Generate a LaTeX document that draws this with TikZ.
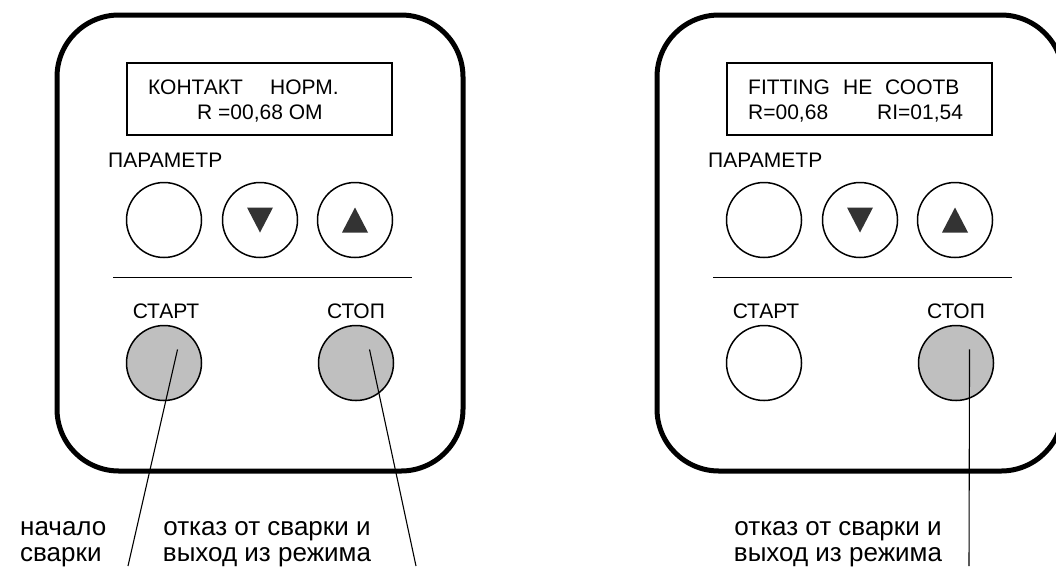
\documentclass[tikz,border=0pt]{standalone}
\usepackage{fontspec}
\setmainfont{Liberation Sans}
\usetikzlibrary{calc}

\begin{document}
\begin{tikzpicture}[x=1pt,y=-1pt,
    panel/.style={line width=5pt,rounded corners=62pt},
    screen/.style={line width=1.8pt},
    btn/.style={circle,draw,line width=1.5pt,minimum size=75pt,inner sep=0pt},
    pressed/.style={btn,fill=gray!50},
    tri/.style={fill=black!80},
    lead/.style={line width=1.1pt},
    lcd/.style={anchor=base west,inner sep=0pt,font=\fontsize{21}{24}\selectfont},
    btnlabel/.style={anchor=base,inner sep=0pt,font=\fontsize{21}{24}\selectfont},
    note/.style={anchor=base,inner sep=0pt,font=\fontsize{26}{26}\selectfont}]
    \useasboundingbox (0,0) rectangle (1056,566);
    \clip (0,0) rectangle (1056,566);
    % both panels, the right one shifted by 600
    \foreach \dx/\startfill in {0/gray!50,600/white} {
        \draw[panel] (57+\dx,15) rectangle (463+\dx,471);
        \draw[screen] (127+\dx,63) rectangle (392+\dx,135);
        \node[lcd] (par\dx) at (108+\dx,167) {ПАРАМЕТР};
        \node[btn] (set\dx) at (164+\dx,220) {};
        \node[btn] (down\dx) at (260+\dx,220) {};
        \node[btn] (up\dx) at (355+\dx,220) {};
        \fill[tri] (down\dx.center) ++(-13,-12.5) -- ++(26,0) -- ++(-13,25) -- cycle;
        \fill[tri] (up\dx.center) ++(-13,12.5) -- ++(26,0) -- ++(-13,-25) -- cycle;
        \draw[line width=1pt] (113+\dx,277) -- (412+\dx,277);
        \node[btnlabel] (lstart\dx) at (166+\dx,318) {СТАРТ};
        \node[btnlabel] (lstop\dx) at (356+\dx,318) {СТОП};
        \node[btn,fill=\startfill] (start\dx) at (164+\dx,363) {};
        \node[pressed] (stop\dx) at (356+\dx,363) {};
    }
    % display texts
    \node[lcd] (l1a) at (148,94) {КОНТАКТ};
    \node[lcd] (l1b) at (270,94) {НОРМ.};
    \node[lcd] (l2) at (197,119) {R =00,68 ОМ};
    \node[lcd] (r1a) at (748,94) {FITTING};
    \node[lcd] (r1b) at (843,94) {НЕ};
    \node[lcd] (r1c) at (885,94) {СООТВ};
    \node[lcd] (r2a) at (748,119) {R=00,68};
    \node[lcd] (r2b) at (877,119) {RI=01,54};
    % captions below
    \node[note,anchor=base west] (go1) at (20,535) {начало};
    \node[note,anchor=base west] (go2) at (20,561) {сварки};
    \node[note] (ab1) at (267,535) {отказ от сварки и};
    \node[note] (ab2) at (267,561) {выход из режима};
    \node[note] (rab1) at (838,535) {отказ от сварки и};
    \node[note] (rab2) at (838,561) {выход из режима};
    \coordinate (e1) at (128,566);
    \coordinate (e2) at (416,566);
    \coordinate (e3) at (969,566);
    \draw[lead] ($(start0.center)!0.5!(start0.45)$) -- (e1);
    \draw[lead] ($(stop0.center)!0.5!(stop0.45)$) -- (e2);
    \draw[lead] ($(stop600.center)!0.5!(stop600.45)$) -- (e3);
\end{tikzpicture}
\end{document}
